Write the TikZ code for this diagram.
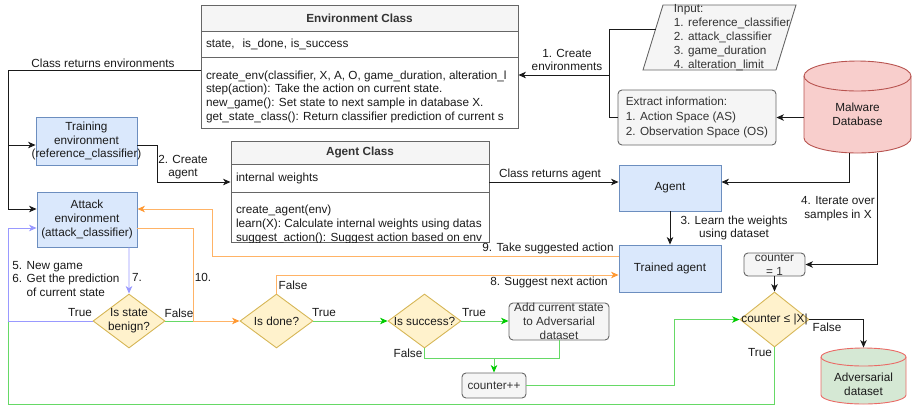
\documentclass[tikz,border=0pt]{standalone}
\usepackage{fontspec}
\setmainfont{Liberation Sans}
\usetikzlibrary{shapes.geometric, arrows.meta, positioning}

\definecolor{procfill}{HTML}{DAE8FC}
\definecolor{procline}{HTML}{6C8EBF}
\definecolor{decfill}{HTML}{FFF2CC}
\definecolor{decline}{HTML}{D6B656}
\definecolor{grayfill}{HTML}{F5F5F5}
\definecolor{grayline}{HTML}{666666}
\definecolor{dbfill}{HTML}{F8CECC}
\definecolor{dbline}{HTML}{B85450}
\definecolor{advfill}{HTML}{D5E8D4}
\definecolor{advline}{HTML}{EA6B66}
\definecolor{orgline}{HTML}{FFB366}
\definecolor{orgtip}{HTML}{FF9933}
\definecolor{bluline}{HTML}{9999FF}
\definecolor{grnline}{HTML}{66D966}
\definecolor{grntip}{HTML}{00CC00}
\definecolor{inktext}{HTML}{1A1A1A}
\definecolor{boxtext}{HTML}{333333}

\newcommand{\dgfont}{\fontsize{11.8}{13.8}\selectfont}

\begin{document}
\begin{tikzpicture}[x=1bp, y=-1bp, font=\dgfont, text=inktext, line width=0.9bp,
  every label/.style={align=center, font=\dgfont, text=inktext, inner sep=0pt},
  procbox/.style={draw=procline, fill=procfill, align=center, inner sep=1bp},
  graybox/.style={draw=grayline, fill=grayfill, rounded corners=4bp, inner sep=1bp, text=boxtext},
  grayshape/.style={draw=grayline, fill=grayfill},
  decide/.style={diamond, draw=decline, fill=decfill, inner sep=0pt},
  classhead/.style={draw=grayline, fill=grayfill, font=\dgfont\bfseries, text=boxtext, inner sep=0pt},
  classrow/.style={draw=grayline, fill=white, align=left, inner xsep=5bp, inner ysep=2bp},
  lbl/.style={align=center, inner sep=0pt},
  tip/.style={-{Stealth[length=7.5bp, width=6.5bp, inset=2.2bp, #1]}},
  conn/.style={draw=inktext, tip={color=inktext}},
  orgconn/.style={draw=orgline, tip={color=orgtip}},
  bluconn/.style={draw=bluline, tip={color=bluline}},
  grnconn/.style={draw=grnline, tip={color=grntip}}]
\useasboundingbox (0,0) rectangle (915,407);

% Environment class
\node[classhead, minimum width=317bp, minimum height=26bp] (envhead) at (359.5,18) {Environment Class};
\node[classrow, text width=307bp, minimum height=26bp] (envattr) at (359.5,44) {state,\ \ is\_done, is\_success};
\node[classrow, minimum width=317bp, minimum height=71bp] (envmeth) at (359.5,92.5) {};
\begin{scope}
  \clip (envmeth.south west) rectangle (envmeth.north east);
  \node[lbl, align=left, anchor=north west] (envmeth-txt) at ([xshift=5bp, yshift=-13.5bp]envmeth.north west)
    {create\_env(classifier, X, A, O, game\_duration, alteration\_l\\step(action): Take the action on current state.\\new\_game(): Set state to next sample in database X.\\get\_state\_class(): Return classifier prediction of current s};
\end{scope}

% Agent class
\node[classhead, minimum width=258bp, minimum height=23bp] (aghead) at (360,152.5) {Agent Class};
\node[classrow, text width=248bp, minimum height=28bp] (agattr) at (360,178) {internal weights};
\node[classrow, minimum width=258bp, minimum height=50bp] (agmeth) at (360,217) {};
\begin{scope}
  \clip (agmeth.south west) rectangle (agmeth.north east);
  \node[lbl, align=left, anchor=north west] (agmeth-txt) at ([xshift=5bp, yshift=-13bp]agmeth.north west)
    {create\_agent(env)\\learn(X): Calculate internal weights using datas\\suggest\_action(): Suggest action based on env};
\end{scope}

% Inputs and database
\draw[grayshape] (643,70) -- (663,5) -- (796,5) -- (776,70) -- cycle;
\node[lbl, align=left, text=boxtext] (inp) at (732,37.5) {Input:\\[0.3bp]1. reference\_classifier\\[0.3bp]2. attack\_classifier\\[0.3bp]3. game\_duration\\[0.3bp]4. alteration\_limit};
\coordinate (inp-w) at (655.6,29);
\node[graybox, minimum width=158bp, minimum height=55bp, align=left] (extract) at (697,117.5)
  {Extract information:\\[1bp]1. Action Space (AS)\\[1bp]2. Observation Space (OS)};
\filldraw[draw=dbline, fill=dbfill] (804,76) -- (804,138) arc[start angle=180, end angle=0, x radius=53.5, y radius=15]
  -- (911,76) arc[start angle=0, end angle=-180, x radius=53.5, y radius=15] -- cycle;
\draw[dbline] (804,76) arc[start angle=180, end angle=0, x radius=53.5, y radius=15];
\node[minimum width=107bp, minimum height=93bp, label={[yshift=-7.5bp]center:Malware\\Database}] (mdb) at (857.5,106.5) {};

% Environments and agents
\node[procbox, minimum width=101bp, minimum height=48bp, label={center:Training\\environment\\(reference\_classifier)}] (tenv) at (86.5,141) {};
\node[procbox, minimum width=100bp, minimum height=55bp] (aenv) at (87,219.5) {Attack\\environment\\(attack\_classifier)};
\node[procbox, minimum width=102bp, minimum height=46bp] (agent) at (670,188) {Agent};
\node[procbox, minimum width=102bp, minimum height=47bp] (trained) at (670,268.5) {Trained agent};

% Decisions and counters
\node[decide, minimum width=72bp, minimum height=54bp, label={center:Is state\\benign?}] (benign) at (129,321) {};
\node[decide, minimum width=73bp, minimum height=54bp, label={center:Is done?}] (done) at (276.5,321) {};
\node[decide, minimum width=73bp, minimum height=54bp, label={center:Is success?}] (success) at (424.5,321) {};
\node[graybox, minimum width=100bp, minimum height=37bp, label={[text=boxtext]center:Add current state\\to Adversarial\\dataset}] (addb) at (559,321.5) {};
\node[graybox, minimum width=64bp, minimum height=25bp] (cinc) at (494,385.5) {counter++};
\node[graybox, minimum width=61bp, minimum height=23bp, label={[text=boxtext]center:counter\\= 1}] (cone) at (774.5,264.5) {};
\node[decide, minimum width=69bp, minimum height=55bp, label={center:counter ≤ |X|}] (cdec) at (774.5,319.5) {};
\filldraw[draw=advline, fill=advfill] (821,357) -- (821,395) arc[start angle=180, end angle=0, x radius=42.5, y radius=9]
  -- (906,357) arc[start angle=0, end angle=-180, x radius=42.5, y radius=9] -- cycle;
\draw[advline] (821,357) arc[start angle=180, end angle=0, x radius=42.5, y radius=9];
\node[minimum width=85bp, minimum height=56bp, label={[yshift=-8bp]center:Adversarial\\dataset}] (adv) at (863.5,376) {};

% Black connectors
\coordinate (join1) at (609,75);
\draw[conn, -] (inp-w) -| (join1);
\draw[conn, -] (extract.west) -| (join1);
\draw[conn] (join1) -- (join1 -| envmeth.east);
\coordinate (lft1) at (8,70);
\draw[conn, -] (envmeth.west |- lft1) -- (lft1);
\draw[conn] (lft1) |- ([yshift=-4bp]tenv.west);
\draw[conn] (lft1) |- ([yshift=10.5bp]aenv.west);
\draw[conn] ([yshift=-4bp]tenv.east) -- ++(20,0) |- ([yshift=-4bp]agattr.west);
\draw[conn] ([yshift=-4bp]agattr.east) -- ([yshift=-4bp]agattr.east -| agent.west);
\draw[conn] (extract.east -| mdb.west) -- (extract.east);
\draw[conn] ([xshift=-8.5bp]mdb.south) |- ([yshift=6bp]agent.east);
\draw[conn] ([xshift=19.5bp]mdb.south) |- (cone.east);
\draw[conn] (agent) -- (trained);
\draw[conn] (cone.south) -- (cdec.north);
\draw[conn] (cdec.east) -| (adv.north);

% Green connectors
\coordinate (join10) at (193,321);
\coordinate (lft2) at (8,321);
\coordinate (bot) at (8,404);
\coordinate (junc) at (494,358);
\draw[grnconn, -] (benign.east) -- (join10);
\draw[grnconn] (done.east) -- (success.west);
\draw[grnconn] (success.east) -- (success.east -| addb.west);
\draw[grnconn, -] (success.south) |- (junc);
\draw[grnconn, -] (addb.south) |- (junc);
\draw[grnconn] (junc) -- (cinc.north);
\draw[grnconn] (cinc.east) -- ++(148,0) |- (cdec.west);
\draw[grnconn, -] (cdec.south) |- (bot) -- (lft2);

% Orange and blue connectors
\draw[orgconn] ([yshift=12.5bp]trained.west) -| ([xshift=75bp, yshift=10.5bp]aenv.east) -- ([yshift=10.5bp]aenv.east);
\draw[orgconn] ([yshift=-8.5bp]aenv.east) -| (join10) -- (done.west);
\draw[orgconn] (done.north) |- ([yshift=-6.5bp]trained.west);
\draw[bluconn] ([xshift=42bp]aenv.south) -- (benign.north);
\draw[bluconn] (benign.west) -- (lft2) |- ([yshift=-8.5bp]aenv.west);

% Connector labels
\node[lbl] (t-envret) at (103,63) {Class returns environments};
\node[lbl] (t-create1) at (567,60) {1. Create\\environments};
\node[lbl] (t-create2) at (183,167) {2. Create\\agent};
\node[lbl] (t-agret) at (550,174) {Class returns agent};
\node[lbl] (t-learn) at (734,228) {3. Learn the weights\\using dataset};
\node[lbl] (t-iter) at (838,209) {4. Iterate over\\samples in X};
\node[lbl] (t-take) at (548,248) {9. Take suggested action};
\node[lbl] (t-suggest) at (549,282) {8. Suggest next action};
\node[lbl] (t-ten) at (203,277) {10.};
\node[lbl] (t-seven) at (137,277) {7.};
\node[lbl, align=left, anchor=west] (t-newgame) at (12,279) {5. New game\\6. Get the prediction\\\phantom{6. }of current state};
\foreach \nm/\x/\y/\txt in {t-true1/80/313/True, t-false1/179/313/False, t-false2/293/285/False,
    t-true2/324/313/True, t-false3/408/353/False, t-true3/474/313/True,
    t-true4/760/353/True, t-false4/827/327/False} {
  \node[lbl] (\nm) at (\x,\y) {\txt};
}
\end{tikzpicture}
\end{document}
